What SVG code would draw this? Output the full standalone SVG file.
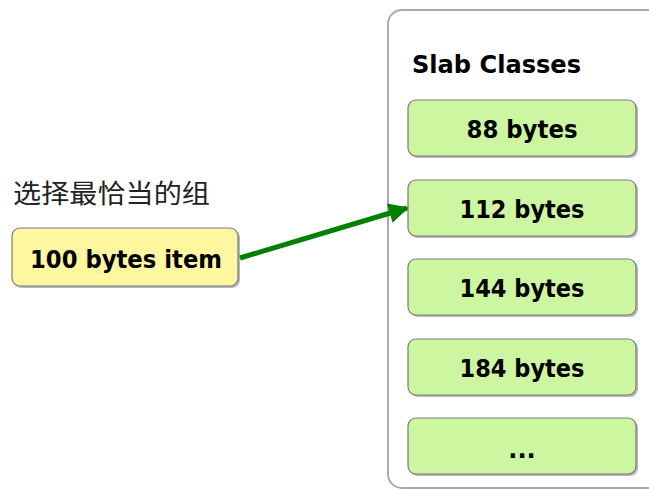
<svg xmlns="http://www.w3.org/2000/svg" width="649" height="490" viewBox="0 0 649 490">
<style>
.box{stroke:#7a7a7a;stroke-width:1.2}
.g{fill:#ccf7a0}
.y{fill:#fff7a0}
.sh{fill:#9a9a9a;opacity:0.7}
.t{font-family:"DejaVu Sans",Verdana,sans-serif;font-weight:bold;font-size:24px;fill:#000;text-anchor:middle}
.cn{font-family:"Noto Sans CJK SC","DejaVu Sans",sans-serif;font-size:26px;fill:#222}
</style>
<defs>
<marker id="ah" viewBox="0 0 10 10" refX="9" refY="5" markerWidth="4.8" markerHeight="4" orient="auto" markerUnits="strokeWidth">
<path d="M0,0 L10,5 L0,10 z" fill="#008000"/>
</marker>
</defs>
<g id="container">
<rect x="388" y="10" width="290" height="478" rx="14" fill="#fff" stroke="#aaaaaa" stroke-width="2"/>
<text x="412" y="73" class="t" style="text-anchor:start" textLength="169" lengthAdjust="spacingAndGlyphs">Slab Classes</text>
</g>
<g id="c88">
<rect x="410" y="102" width="228" height="56" rx="8" class="sh"/>
<rect x="408" y="100" width="228" height="56" rx="8" class="box g"/>
<text x="522" y="138" class="t" textLength="111" lengthAdjust="spacingAndGlyphs">88 bytes</text>
</g>
<g id="c112">
<rect x="410" y="182" width="228" height="56" rx="8" class="sh"/>
<rect x="408" y="180" width="228" height="56" rx="8" class="box g"/>
<text x="522" y="218" class="t" textLength="125" lengthAdjust="spacingAndGlyphs">112 bytes</text>
</g>
<g id="c144">
<rect x="410" y="261" width="228" height="56" rx="8" class="sh"/>
<rect x="408" y="259" width="228" height="56" rx="8" class="box g"/>
<text x="522" y="297" class="t" textLength="125" lengthAdjust="spacingAndGlyphs">144 bytes</text>
</g>
<g id="c184">
<rect x="410" y="341" width="228" height="56" rx="8" class="sh"/>
<rect x="408" y="339" width="228" height="56" rx="8" class="box g"/>
<text x="522" y="377" class="t" textLength="125" lengthAdjust="spacingAndGlyphs">184 bytes</text>
</g>
<g id="cmore">
<rect x="410" y="420" width="228" height="56" rx="8" class="sh"/>
<rect x="408" y="418" width="228" height="56" rx="8" class="box g"/>
<text x="522" y="458" class="t">...</text>
</g>
<g id="item">
<text x="13" y="203" class="cn" textLength="197" lengthAdjust="spacingAndGlyphs">选择最恰当的组</text>
<rect x="14" y="230" width="226" height="58" rx="8" class="sh"/>
<rect x="12" y="228" width="226" height="58" rx="8" class="box y"/>
<text x="126" y="268" class="t" textLength="192" lengthAdjust="spacingAndGlyphs">100 bytes item</text>
</g>
<g id="connectors">
<line x1="240" y1="258" x2="407" y2="208" stroke="#008000" stroke-width="5" marker-end="url(#ah)"/>
</g>
</svg>
